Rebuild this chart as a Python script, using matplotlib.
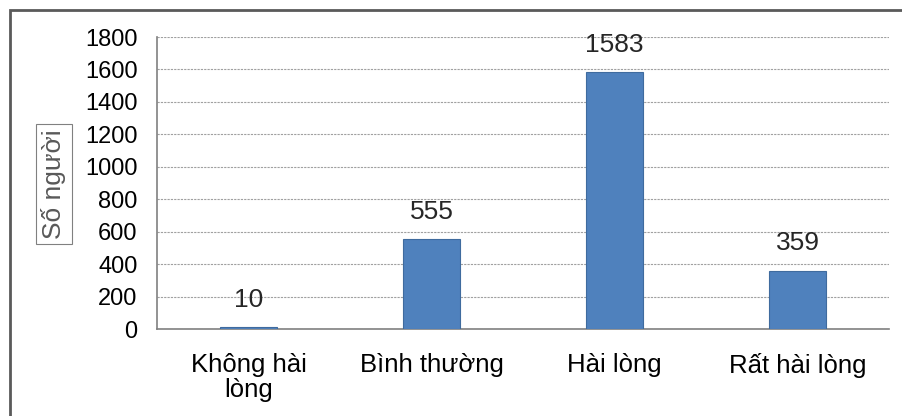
import matplotlib
matplotlib.use("Agg")
import matplotlib.pyplot as plt
from matplotlib.patches import Rectangle

categories = ["Không hài\nlòng", "Bình thường", "Hài lòng", "Rất hài lòng"]
counts = [10, 555, 1583, 359]
y_ticks = [0, 200, 400, 600, 800, 1000, 1200, 1400, 1600, 1800]
y_label = "Số người"

plt.rcParams["font.family"] = ["Liberation Sans", "DejaVu Sans"]

W, H = 903, 416
fig = plt.figure(figsize=(W / 100, H / 100), dpi=100)
ax = fig.add_axes([157 / W, 1 - 329 / H, (889 - 157) / W, (329 - 37) / H])

bar_color = "#4f81bd"
x = list(range(len(categories)))
ax.bar(x, counts, width=0.31, color=bar_color, edgecolor="#3f6b9e",
       linewidth=0.8, zorder=3)

for xi, v in zip(x, counts):
    ax.annotate(str(v), (xi, v), xytext=(0, 11), textcoords="offset points",
                ha="center", va="bottom", fontsize=19, color="#262626")

ax.set_xlim(-0.5, len(categories) - 0.5)
ax.set_ylim(0, 1800)
ax.set_yticks(y_ticks)
ax.set_yticklabels([str(t) for t in y_ticks], fontsize=17, color="black")
ax.set_xticks(x)
ax.set_xticklabels(categories, fontsize=18.5, color="black", linespacing=1.05)
ax.tick_params(axis="both", length=0)
ax.tick_params(axis="x", pad=17)
ax.tick_params(axis="y", pad=14)

ax.yaxis.grid(True, linestyle=(0, (2, 1)), color="#a0a0a0", linewidth=0.8, zorder=0)
ax.set_axisbelow(True)
for side in ("top", "right"):
    ax.spines[side].set_visible(False)
for side in ("left", "bottom"):
    ax.spines[side].set_color("#808080")
    ax.spines[side].set_linewidth(1.2)

fig.text(54 / W, 1 - 184 / H, y_label, rotation=90, ha="center", va="center",
         fontsize=19, color="#595959",
         bbox=dict(boxstyle="square,pad=0.2", facecolor="white",
                   edgecolor="#808080", linewidth=0.8))

# outer frame around the chart area
fig.add_artist(Rectangle((10 / W, -0.1), 1.2, 1 - 10 / H + 0.1,
                         transform=fig.transFigure, fill=False,
                         edgecolor="#5a5a5a", linewidth=2))

fig.savefig("out.png", dpi=100)
